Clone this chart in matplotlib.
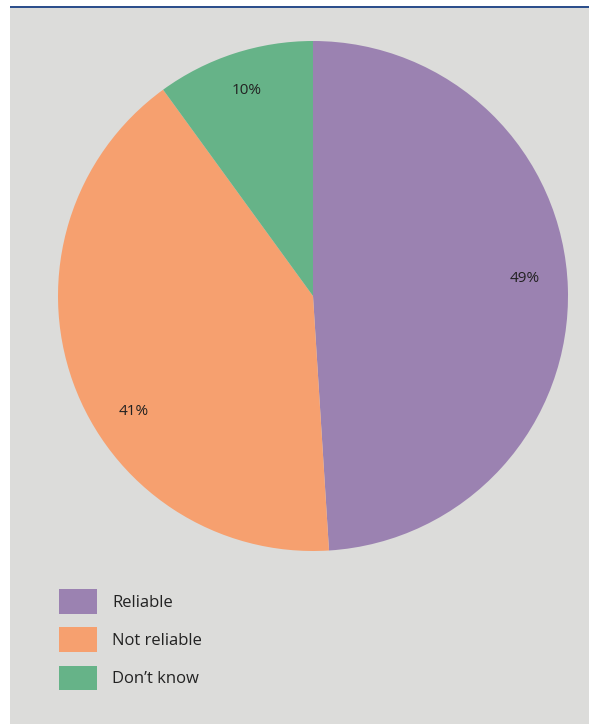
import numpy as np
import matplotlib.pyplot as plt
from matplotlib.patches import Rectangle

plt.rcParams['font.family'] = ['Open Sans', 'DejaVu Sans']

labels = ['Reliable', 'Not reliable', 'Don\u2019t know']
values = [49, 41, 10]
colors = ['#9b82b1', '#f6a06f', '#66b388']

# small angular nudges (degrees) of the % labels, as in the original layout
label_shift = [3, 13, 0]
label_dist = [0.835, 0.837, 0.846]

W, H = 589, 724
fig = plt.figure(figsize=(W / 100, H / 100), dpi=100)
fig.patch.set_facecolor('white')

# grey panel + blue rule on top
fig.patches.append(Rectangle((10 / W, 0), 1 - 10 / W, 1 - 7 / H,
                             transform=fig.transFigure, facecolor='#dcdcda',
                             edgecolor='none', zorder=-2))
fig.patches.append(Rectangle((10 / W, 1 - 8 / H), 1 - 10 / W, 2 / H,
                             transform=fig.transFigure, facecolor='#2d4f8c',
                             edgecolor='none', zorder=-1))

ax = fig.add_axes([58 / W, 1 - 551 / H, 510 / W, 510 / H])
ax.set_zorder(2)
ax.set_facecolor('none')
wedges, texts, autotexts = ax.pie(values, colors=colors, startangle=90, counterclock=False,
                                  autopct='%d%%', pctdistance=0.84,
                                  wedgeprops=dict(linewidth=0),
                                  textprops=dict(fontsize=11, color='#222222'))
for w, t, s, d in zip(wedges, autotexts, label_shift, label_dist):
    mid = np.deg2rad((w.theta1 + w.theta2) / 2 + s)
    t.set_position((d * np.cos(mid), d * np.sin(mid)))

ax.set_xlim(-1, 1)
ax.set_ylim(-1, 1)
ax.set_aspect('equal')
ax.axis('off')

leg = fig.legend(wedges, labels, loc='upper left', bbox_to_anchor=(59 / W, 1 - 589 / H),
                 frameon=False, fontsize=12, handlelength=2.3, handleheight=1.9,
                 labelspacing=0.82, handletextpad=0.9, borderpad=0, borderaxespad=0,
                 labelcolor='#222222')
leg.set_zorder(3)

fig.savefig('out.png', dpi=100, facecolor=fig.get_facecolor())
